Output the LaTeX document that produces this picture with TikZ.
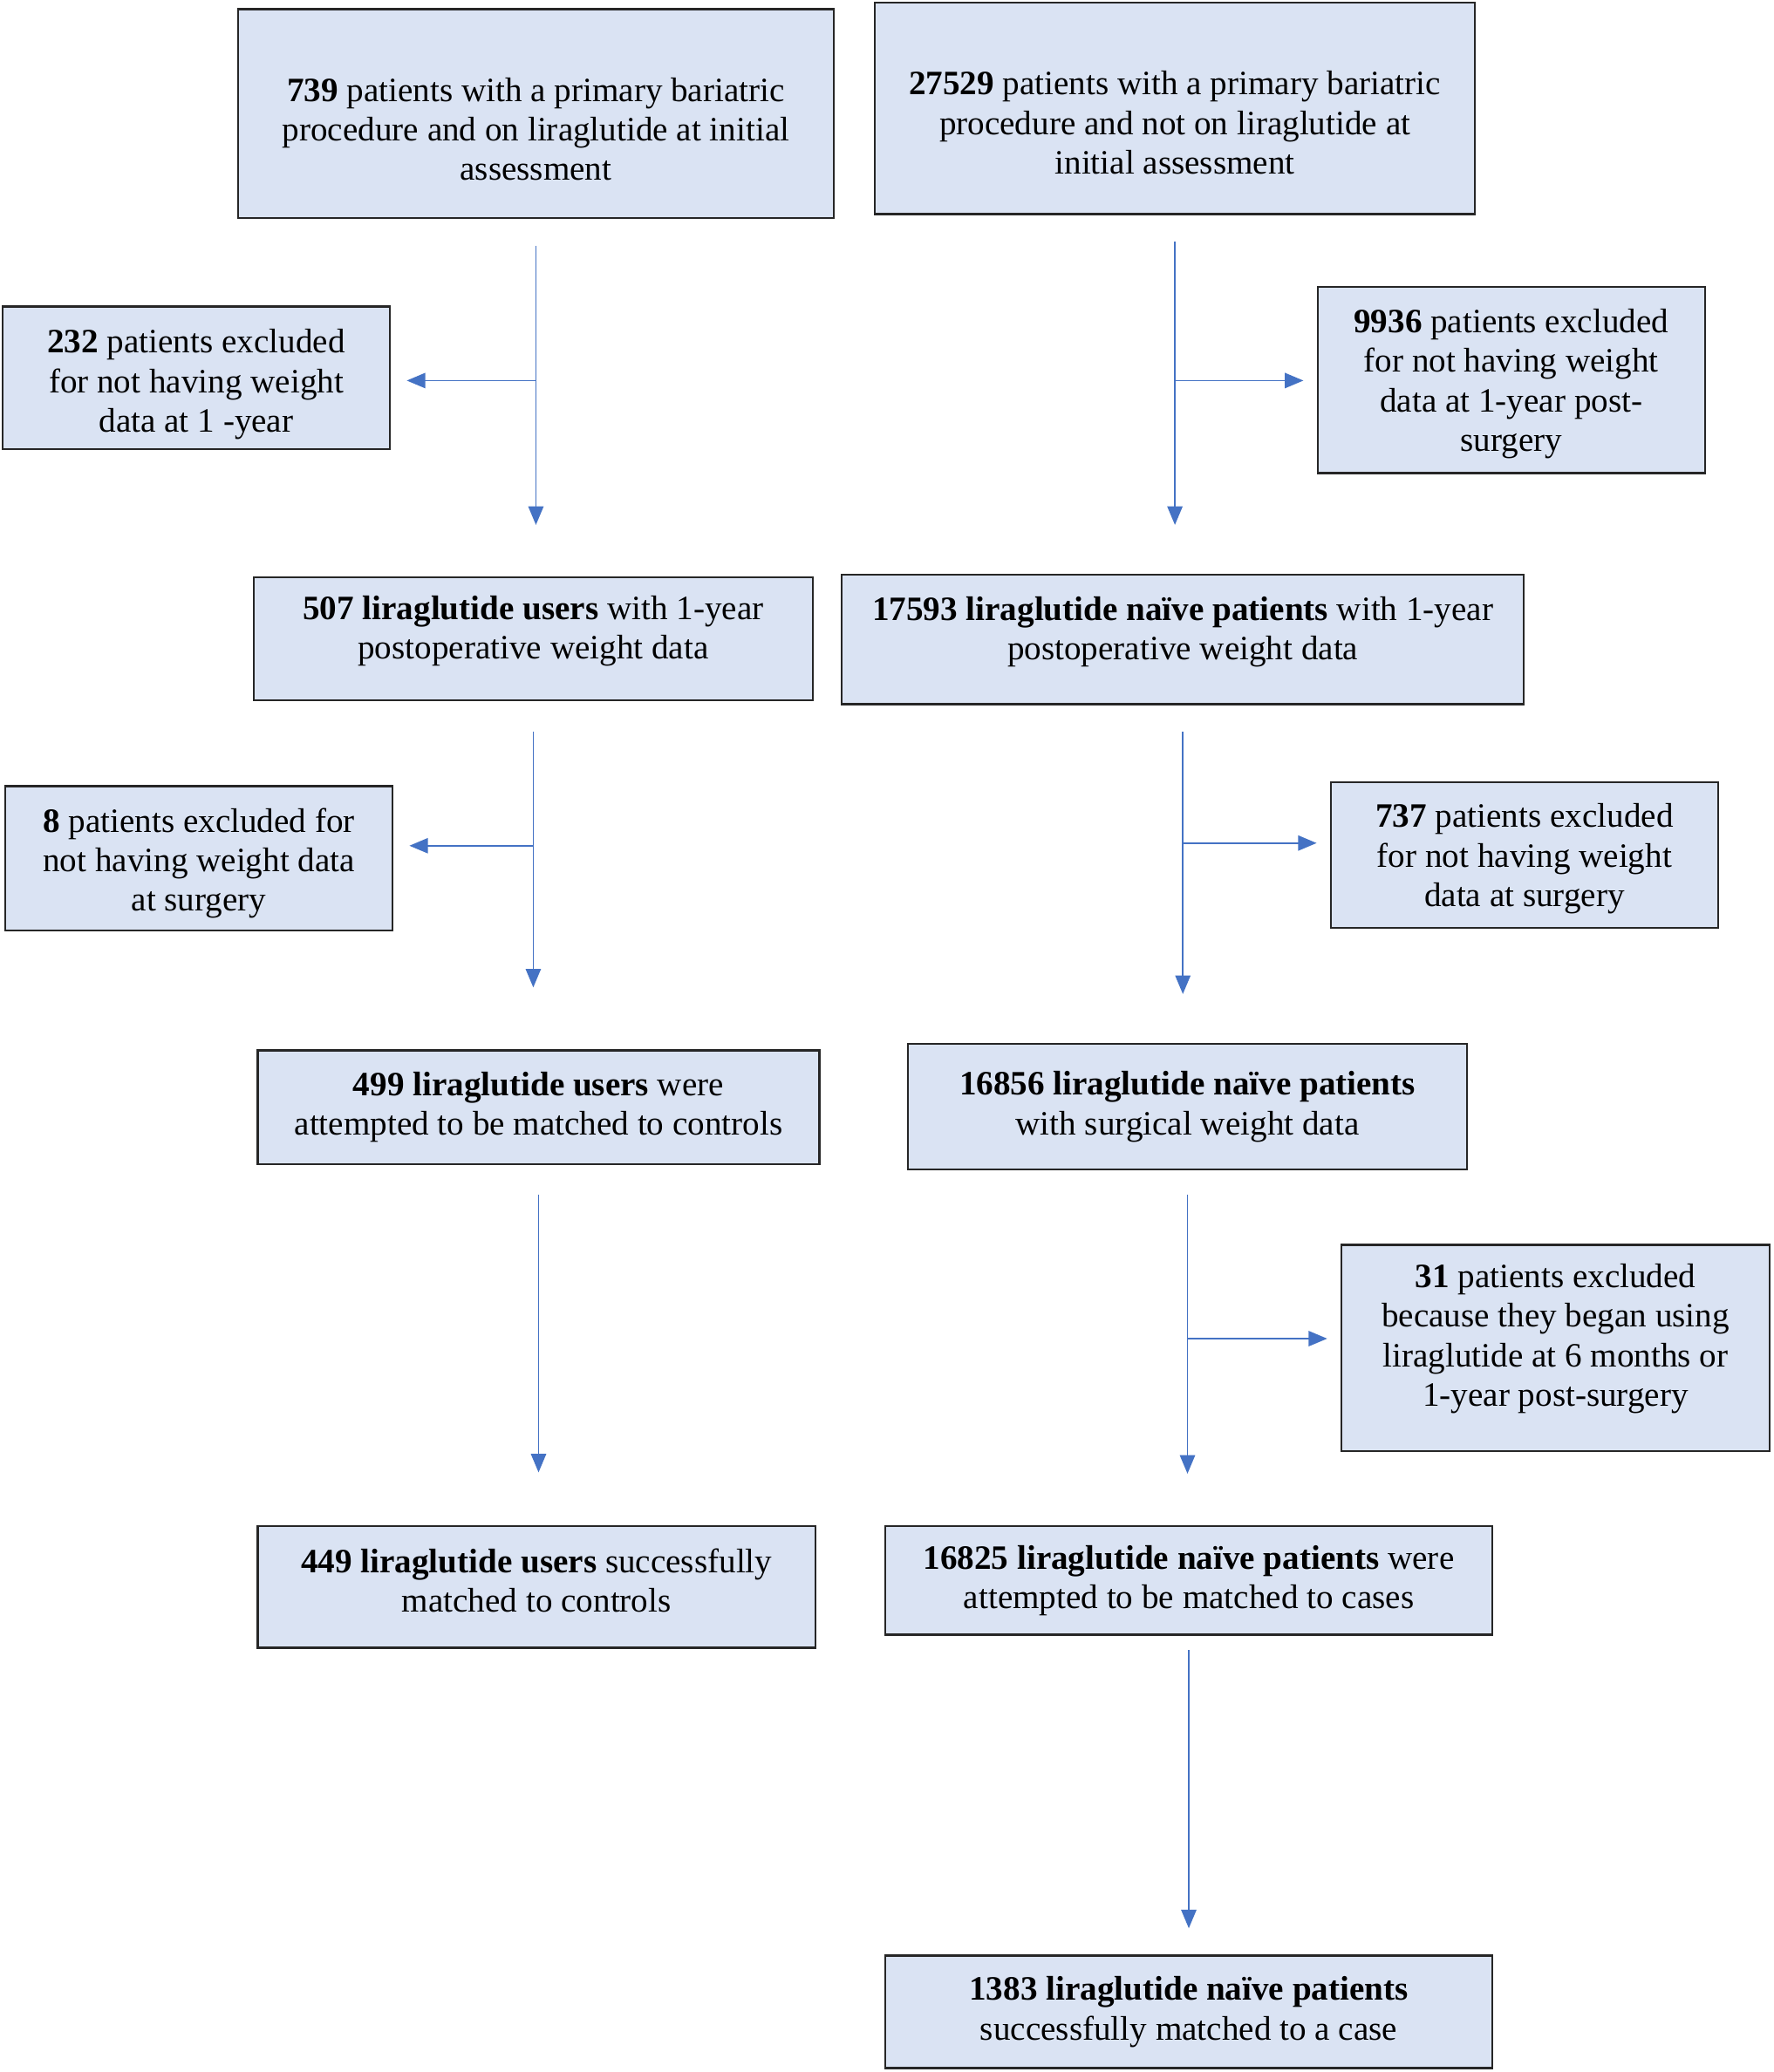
\documentclass[tikz,border=0pt]{standalone}
\usepackage{fontspec}
\setmainfont{Liberation Serif}
\usetikzlibrary{arrows.meta,calc}

\definecolor{boxfill}{RGB}{218,227,243}
\definecolor{arrblue}{RGB}{68,114,196}

% struts to nudge the text inside a box
\newcommand\tdn[1]{\rule{0pt}{#1}}
\newcommand\tup[1]{\rule[-#1]{0pt}{#1}}

\begin{document}
\begin{tikzpicture}
  [x=0.02cm,y=-0.02cm,
   box/.style 2 args={draw=black!85,line width=0.9pt,fill=boxfill,inner sep=0pt,
     align=center,minimum width=#1*0.02cm,minimum height=#2*0.02cm,
     font=\fontsize{14.7pt}{17pt}\selectfont},
   arr/.style={draw=arrblue,line width=0.6pt,-{Triangle[length=0.28cm,width=0.23cm]}}]
  \fill[white] (0,0) rectangle (1342,1568);
  \useasboundingbox (0,0) rectangle (1342,1568);

  % liraglutide users
  \node[box={451}{158}] (u1) at (405.5,86) {\tdn{23.6pt}\textbf{739} patients with a primary bariatric\\procedure and on liraglutide at initial\\assessment};
  \node[box={423}{93}] (u2) at (403.5,483.5) {\textbf{507 liraglutide users} with 1-year\\postoperative weight data\tup{10pt}};
  \node[box={425}{86}] (u3) at (407.5,838) {\textbf{499 liraglutide users} were\\attempted to be matched to controls};
  \node[box={422}{92}] (u4) at (406,1201) {\textbf{449 liraglutide users} successfully\\matched to controls\tup{5.7pt}};

  % liraglutide naive patients
  \node[box={454}{160}] (n1) at (889,82) {\tdn{22.5pt}\textbf{27529} patients with a primary bariatric\\procedure and not on liraglutide at\\initial assessment};
  \node[box={516}{98}] (n2) at (895,484) {\textbf{17593 liraglutide naïve patients} with 1-year\\postoperative weight data\tup{10pt}};
  \node[box={423}{95}] (n3) at (898.5,837.5) {\textbf{16856 liraglutide naïve patients}\\with surgical weight data};
  \node[box={459}{82}] (n4) at (899.5,1196) {\textbf{16825 liraglutide naïve patients} were\\attempted to be matched to cases};
  \node[box={459}{85}] (n5) at (899.5,1522.5) {\textbf{1383 liraglutide naïve patients}\\successfully matched to a case};

  % excluded
  \node[box={293}{108}] (x1) at (148.5,286) {\tdn{15.7pt}\textbf{232} patients excluded\\for not having weight\\data at 1 -year};
  \node[box={293}{109}] (x2) at (150.5,649.5) {\tdn{14.5pt}\textbf{8} patients excluded for\\not having weight data\\at surgery};
  \node[box={293}{141}] (x3) at (1143.5,287.5) {\tdn{13.5pt}\textbf{9936} patients excluded\\for not having weight\\data at 1-year post-\\surgery};
  \node[box={293}{110}] (x4) at (1153.5,647) {\tdn{13.5pt}\textbf{737} patients excluded\\for not having weight\\data at surgery};
  \node[box={324}{156}] (x5) at (1177,1020) {\textbf{31} patients excluded\\because they began using\\liraglutide at 6 months or\\1-year post-surgery\tup{11.1pt}};

  \foreach \from/\to/\a/\b in {u1/u2/20/39,u2/u3/23/47,u3/u4/22/40,
                               n1/n2/20/37,n2/n3/20/37,n3/n4/18/39,n4/n5/11/20}
    \draw[arr,shorten <=\a*0.02cm,shorten >=\b*0.02cm] (\from.south) -- (\from.south |- \to.north);

  \coordinate (j1) at (u1.south |- 0,288);
  \coordinate (j2) at (u2.south |- 0,640);
  \coordinate (j3) at (n1.south |- 0,288);
  \coordinate (j4) at (n2.south |- 0,638);
  \coordinate (j5) at (n3.south |- 0,1013);

  \foreach \from/\to in {j1/x1,j2/x2}
    \draw[arr,shorten >=12*0.02cm] (\from) -- (\from -| \to.east);
  \foreach \from/\to in {j3/x3,j4/x4,j5/x5}
    \draw[arr,shorten >=10*0.02cm] (\from) -- (\from -| \to.west);

\end{tikzpicture}
\end{document}
